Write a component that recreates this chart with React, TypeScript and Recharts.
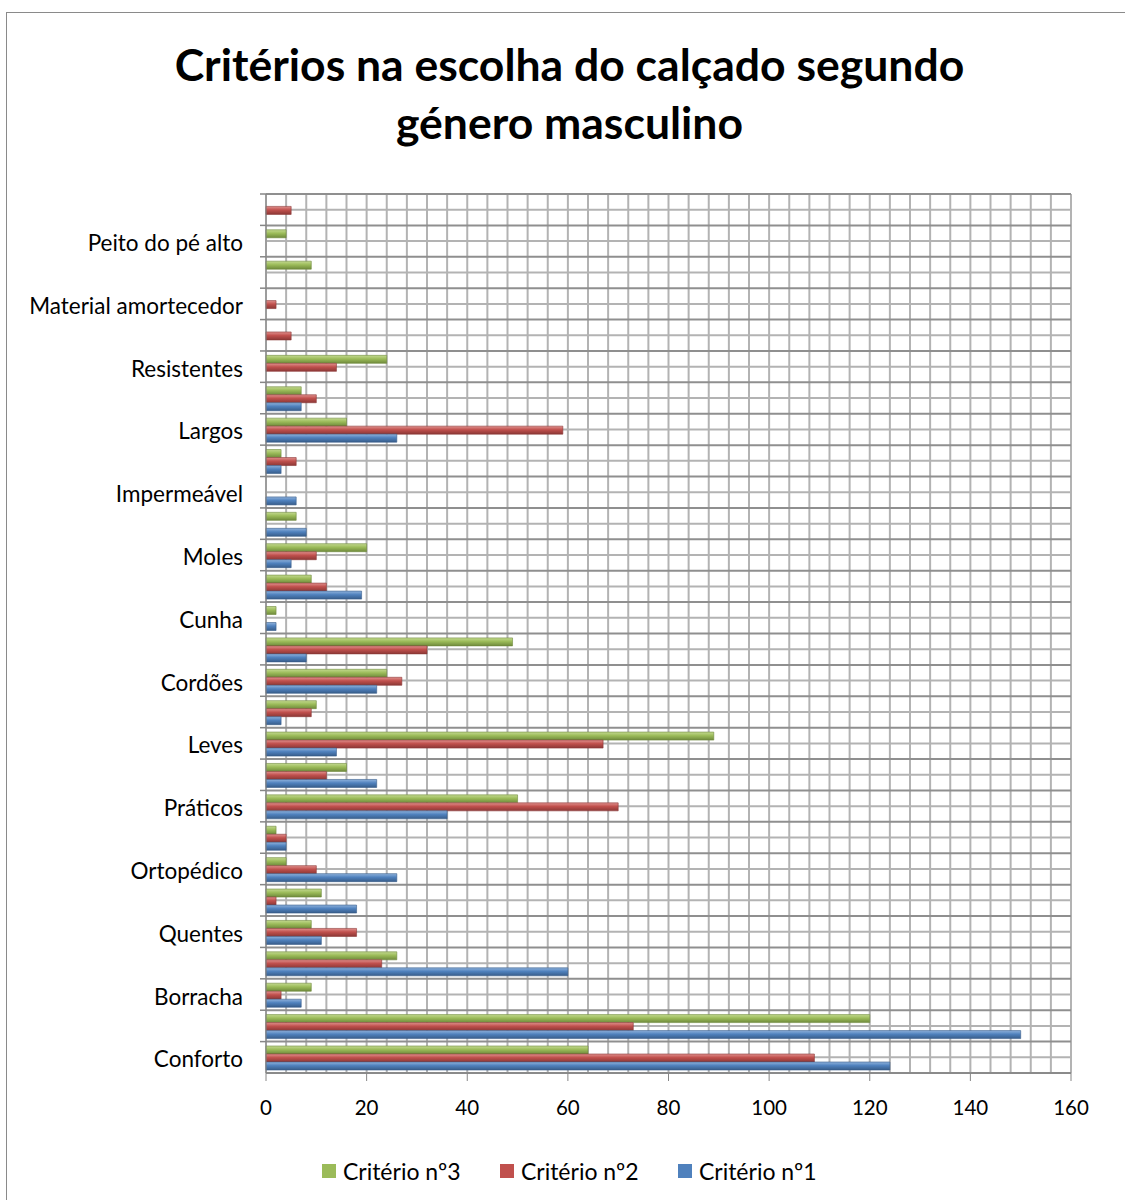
import { Bar, BarChart, CartesianGrid, XAxis, YAxis } from 'recharts';

// categories from bottom (index 0) to top; Excel only printed every other label
const categories = [
  'Conforto', '', 'Borracha', '', 'Quentes', '', 'Ortopédico', '', 'Práticos', '',
  'Leves', '', 'Cordões', '', 'Cunha', '', 'Moles', '', 'Impermeável', '',
  'Largos', '', 'Resistentes', '', 'Material amortecedor', '', 'Peito do pé alto', '',
];

const criterio1 = [124, 150, 7, 60, 11, 18, 26, 4, 36, 22, 14, 3, 22, 8, 2, 19, 5, 8, 6, 3, 26, 7, 0, 0, 0, 0, 0, 0];
const criterio2 = [109, 73, 3, 23, 18, 2, 10, 4, 70, 12, 67, 9, 27, 32, 0, 12, 10, 0, 0, 6, 59, 10, 14, 5, 2, 0, 0, 5];
const criterio3 = [64, 120, 9, 26, 9, 11, 4, 2, 50, 16, 89, 10, 24, 49, 2, 9, 20, 6, 0, 3, 16, 7, 24, 0, 0, 9, 4, 0];

const xTicks = [0, 20, 40, 60, 80, 100, 120, 140, 160];
const minorTicks = [
  0, 4, 8, 12, 16, 20, 24, 28, 32, 36, 40, 44, 48, 52, 56, 60, 64, 68, 72, 76, 80,
  84, 88, 92, 96, 100, 104, 108, 112, 116, 120, 124, 128, 132, 136, 140, 144, 148, 152, 156, 160,
];

const seriesNames = ['Critério nº3', 'Critério nº2', 'Critério nº1'];
const seriesColors = ['#9BBB59', '#C0504D', '#4F81BD'];

const data = categories.map((name, i) => ({
  key: String(i),
  name,
  c1: criterio1[i],
  c2: criterio2[i],
  c3: criterio3[i],
}));

const font = 'Lato, "Open Sans", sans-serif';

// minor vertical lines every 4 units, through the x scale
const minorVertical = ({ xAxis, offset }: any) => {
  const s = xAxis?.scale;
  if (typeof s === 'function') return minorTicks.map((v) => s(v));
  return minorTicks.map((v) => offset.left + (v / 160) * offset.width);
};

// darker lines on the edges of every category band
const bandEdges = ({ yAxis, offset }: any) => {
  const s = yAxis?.scale;
  if (typeof s === 'function' && typeof s.bandwidth === 'function') {
    const bw = s.bandwidth();
    const tops = data.map((d) => s(d.key));
    return [...tops, ...tops.map((v: number) => v + bw)];
  }
  return data.map((_, i) => offset.top + (i * offset.height) / data.length).concat(offset.top + offset.height);
};

const CategoryTick = (props: any) => {
  const { x, y, payload } = props;
  const half = payload?.offset ?? 0;
  const label = categories[Number(payload?.value)];
  return (
    <g>
      <line x1={x + 17} x2={x + 23} y1={y - half} y2={y - half} stroke="#868686" strokeWidth={1.5} />
      {label ? (
        <text x={x} y={y + 2} dy="0.355em" textAnchor="end" fill="#000" fontSize={22.5} fontFamily={font}>
          {label}
        </text>
      ) : null}
    </g>
  );
};

export default function App() {
  return (
    <div style={{ position: 'absolute', left: 0, top: 0, width: 1125, height: 1200, background: '#fff', overflow: 'hidden' }}>
      <div style={{ position: 'absolute', left: 6, top: 12, width: 1140, height: 1210, border: '1.5px solid #8a8a8a' }} />
      <div
        style={{
          position: 'absolute', left: 0, top: 35, width: 1139, textAlign: 'center',
          fontFamily: font, fontWeight: 700, fontSize: 44.5, lineHeight: '58px', color: '#000',
        }}
      >
        Critérios na escolha do calçado segundo
        <br />
        género masculino
      </div>
      <div style={{ position: 'absolute', left: 0, top: 0 }}>
        <BarChart
          width={1125}
          height={1200}
          data={data}
          layout="vertical"
          margin={{ top: 194, right: 54, bottom: 87, left: 66 }}
          barCategoryGap="14%"
          barGap={0}
        >
          <defs>
            <linearGradient id="gGreen" x1="0" y1="0" x2="0" y2="1">
              <stop offset="0%" stopColor="#c3d98f" />
              <stop offset="45%" stopColor="#9bbb59" />
              <stop offset="100%" stopColor="#6f8a3c" />
            </linearGradient>
            <linearGradient id="gRed" x1="0" y1="0" x2="0" y2="1">
              <stop offset="0%" stopColor="#e0908d" />
              <stop offset="45%" stopColor="#c0504d" />
              <stop offset="100%" stopColor="#8c3836" />
            </linearGradient>
            <linearGradient id="gBlue" x1="0" y1="0" x2="0" y2="1">
              <stop offset="0%" stopColor="#8fb2dc" />
              <stop offset="45%" stopColor="#4f81bd" />
              <stop offset="100%" stopColor="#385d8a" />
            </linearGradient>
          </defs>
          <CartesianGrid stroke="#b3b3b3" strokeWidth={2} verticalCoordinatesGenerator={minorVertical} />
          <CartesianGrid stroke="#8f8f8f" strokeWidth={2} vertical={false} horizontalCoordinatesGenerator={bandEdges} />
          <XAxis
            type="number"
            domain={[0, 160]}
            ticks={xTicks}
            interval={0}
            tick={{ fill: '#000', fontSize: 20.5, fontFamily: font }}
            tickSize={8}
            tickMargin={19}
            stroke="#868686"
            height={40}
          />
          <YAxis
            type="category"
            dataKey="key"
            reversed
            interval={0}
            tick={<CategoryTick />}
            tickLine={false}
            tickSize={6}
            tickMargin={17}
            stroke="#868686"
            width={200}
          />
          <Bar dataKey="c3" name={seriesNames[0]} fill="url(#gGreen)" stroke="#6f8a3c" strokeWidth={0.6} isAnimationActive={false} />
          <Bar dataKey="c2" name={seriesNames[1]} fill="url(#gRed)" stroke="#8c3836" strokeWidth={0.6} isAnimationActive={false} />
          <Bar dataKey="c1" name={seriesNames[2]} fill="url(#gBlue)" stroke="#385d8a" strokeWidth={0.6} isAnimationActive={false} />
        </BarChart>
      </div>
      <div style={{ position: 'absolute', left: 322, top: 1158, display: 'flex', fontFamily: font, fontSize: 23, color: '#000' }}>
        {seriesNames.map((n, i) => (
          <div key={n} style={{ display: 'flex', alignItems: 'center', width: 178, height: 26 }}>
            <span style={{ display: 'inline-block', width: 14, height: 14, background: seriesColors[i], marginRight: 7 }} />
            <span>{n}</span>
          </div>
        ))}
      </div>
    </div>
  );
}
